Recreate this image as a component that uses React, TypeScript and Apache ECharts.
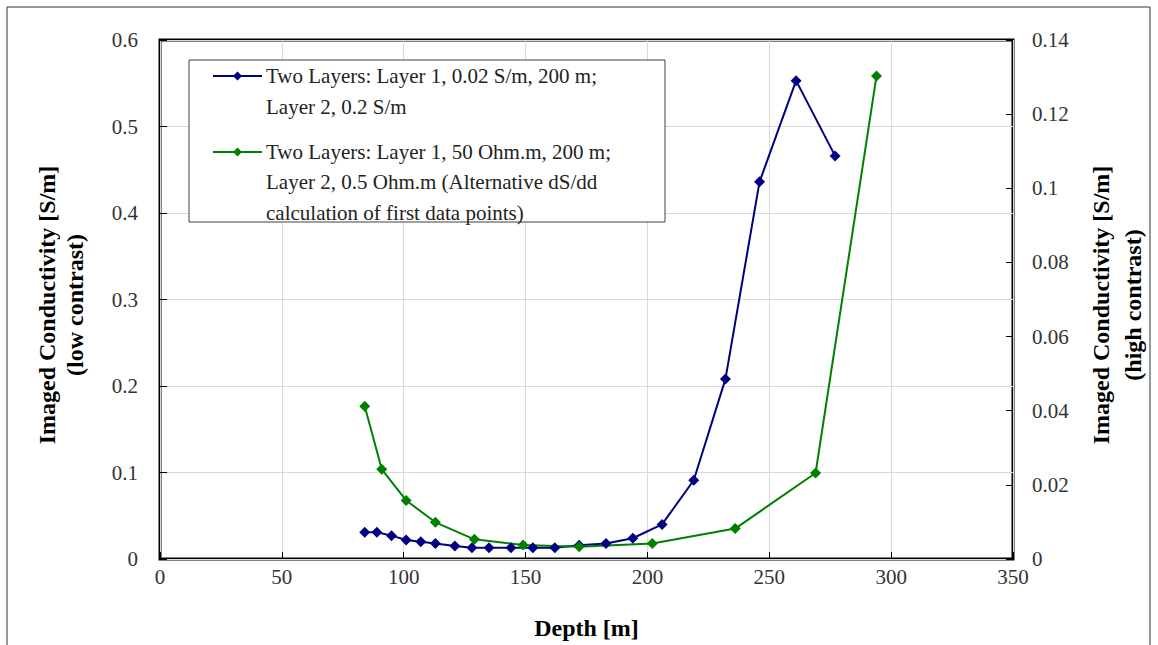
import React, { useEffect, useRef } from "react";
import * as echarts from "echarts";

const seriesNames = [
  "Two Layers: Layer 1, 0.02 S/m, 200 m;\nLayer 2, 0.2 S/m",
  "Two Layers: Layer 1, 50 Ohm.m, 200 m;\nLayer 2, 0.5 Ohm.m (Alternative dS/dd\ncalculation of first data points)",
];

const blueDepth = [84, 89, 95, 101, 107, 113, 121, 128, 135, 144, 153, 162, 172, 183, 194, 206, 219, 232, 246, 261, 277];
const blueCond = [0.031, 0.031, 0.027, 0.022, 0.02, 0.018, 0.015, 0.013, 0.013, 0.013, 0.013, 0.013, 0.016, 0.018, 0.024, 0.04, 0.091, 0.208, 0.436, 0.553, 0.466];

const greenDepth = [84, 91, 101, 113, 129, 149, 172, 202, 236, 269, 294];
const greenCond = [0.0412, 0.0242, 0.0158, 0.0099, 0.0053, 0.0038, 0.0033, 0.0042, 0.0082, 0.0232, 0.1303];

const xTitle = "Depth [m]";
const leftTitle = "Imaged Conductivity [S/m]\n(low contrast)";
const rightTitle = "Imaged Conductivity [S/m]\n(high contrast)";

const BLUE = "#000080";
const GREEN = "#008000";
const FONT = "Liberation Serif";

function diamond(cx: number, cy: number, r: number, color: string) {
  return {
    type: "polygon",
    z: 101,
    shape: { points: [[cx, cy - r], [cx + r, cy], [cx, cy + r], [cx - r, cy]] },
    style: { fill: color },
  };
}

export default function App() {
  const ref = useRef<HTMLDivElement>(null);
  useEffect(() => {
    if (!ref.current) return;
    const chart = echarts.init(ref.current, null, { renderer: "svg" });
    const labelStyle = { fontFamily: FONT, fontSize: 21, color: "#333" };
    chart.setOption({
      animation: false,
      backgroundColor: "#fff",
      grid: {
        left: 160,
        right: 145,
        top: 40,
        bottom: 86,
        show: true,
        borderColor: "#000",
        borderWidth: 3,
      },
      xAxis: {
        type: "value",
        min: 0,
        max: 350,
        interval: 50,
        name: xTitle,
        nameLocation: "middle",
        nameGap: 57,
        nameTextStyle: { fontFamily: FONT, fontSize: 24, fontWeight: "bold", color: "#000" },
        axisLine: { show: false },
        axisTick: { show: true, inside: true, length: 7, lineStyle: { color: "#000" } },
        axisLabel: { ...labelStyle, margin: 7 },
        splitLine: { show: true, lineStyle: { color: "#d9d9d9", width: 1 } },
      },
      yAxis: [
        {
          type: "value",
          min: 0,
          max: 0.6,
          interval: 0.1,
          position: "left",
          axisLine: { show: false },
          axisTick: { show: true, inside: true, length: 7, lineStyle: { color: "#000" } },
          axisLabel: { ...labelStyle, margin: 22 },
          splitLine: { show: true, lineStyle: { color: "#d9d9d9", width: 1 } },
        },
        {
          type: "value",
          min: 0,
          max: 0.14,
          interval: 0.02,
          position: "right",
          axisLine: { show: false },
          axisTick: { show: true, inside: true, length: 7, lineStyle: { color: "#000" } },
          axisLabel: { ...labelStyle, margin: 19 },
          splitLine: { show: false },
        },
      ],
      series: [
        {
          name: seriesNames[0],
          type: "line",
          yAxisIndex: 0,
          data: blueDepth.map((d, i) => [d, blueCond[i]]),
          symbol: "diamond",
          symbolSize: 11,
          itemStyle: { color: BLUE },
          lineStyle: { color: BLUE, width: 2 },
        },
        {
          name: seriesNames[1],
          type: "line",
          yAxisIndex: 1,
          data: greenDepth.map((d, i) => [d, greenCond[i]]),
          symbol: "diamond",
          symbolSize: 11,
          itemStyle: { color: GREEN },
          lineStyle: { color: GREEN, width: 2 },
        },
      ],
      graphic: [
        {
          type: "rect",
          z: -1,
          shape: { x: 7, y: 7, width: 1143, height: 700 },
          style: { fill: "none", stroke: "#333", lineWidth: 1 },
          silent: true,
        },
        {
          type: "rect",
          z: 100,
          shape: { x: 189, y: 60, width: 476, height: 162 },
          style: { fill: "#fff", stroke: "#404040", lineWidth: 1 },
        },
        { type: "line", z: 101, shape: { x1: 213, y1: 76, x2: 262, y2: 76 }, style: { stroke: BLUE, lineWidth: 2 } },
        diamond(237.5, 76, 4.5, BLUE),
        {
          type: "text",
          z: 101,
          x: 266,
          y: 60.5,
          style: { text: seriesNames[0], fontFamily: FONT, fontSize: 21, lineHeight: 31, fill: "#222", align: "left", verticalAlign: "top" },
        },
        { type: "line", z: 101, shape: { x1: 213, y1: 152, x2: 262, y2: 152 }, style: { stroke: GREEN, lineWidth: 2 } },
        diamond(237.5, 152, 4.5, GREEN),
        {
          type: "text",
          z: 101,
          x: 266,
          y: 136.5,
          style: { text: seriesNames[1], fontFamily: FONT, fontSize: 21, lineHeight: 30.5, fill: "#222", align: "left", verticalAlign: "top" },
        },
        {
          type: "text",
          x: 61,
          y: 305,
          rotation: Math.PI / 2,
          style: { text: leftTitle, fontFamily: FONT, fontSize: 24, fontWeight: "bold", lineHeight: 28, fill: "#000", align: "center", verticalAlign: "middle" },
        },
        {
          type: "text",
          x: 1117,
          y: 305,
          rotation: Math.PI / 2,
          style: { text: rightTitle, fontFamily: FONT, fontSize: 24, fontWeight: "bold", lineHeight: 32, fill: "#000", align: "center", verticalAlign: "middle" },
        },
      ],
    });
    return () => chart.dispose();
  }, []);
  return <div ref={ref} style={{ position: "absolute", left: 0, top: 0, width: 1158, height: 645 }} />;
}
